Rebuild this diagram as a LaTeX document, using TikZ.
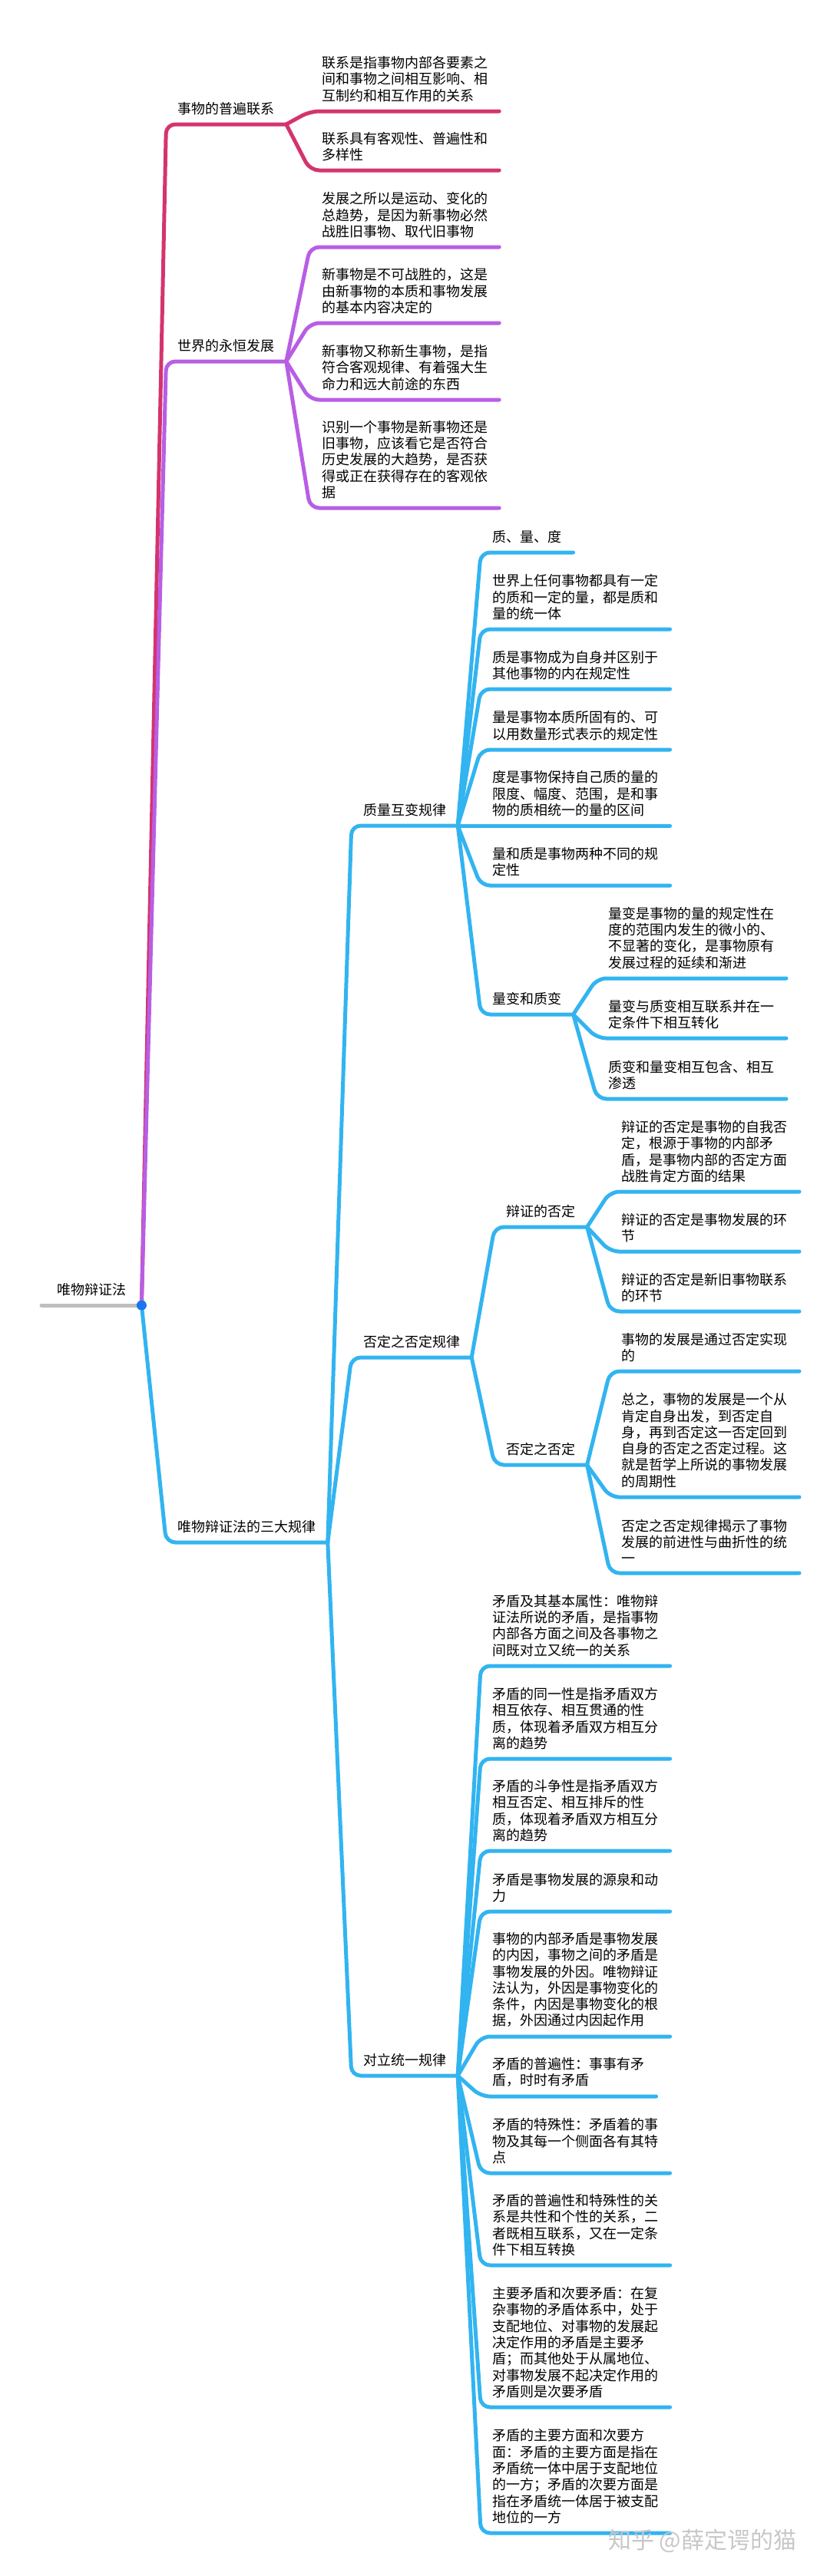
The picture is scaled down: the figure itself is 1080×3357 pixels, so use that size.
\documentclass[tikz,border=0pt]{standalone}
\usepackage{fontspec}
\setmainfont{Noto Sans CJK SC}
\usetikzlibrary{calc}

\definecolor{linkred}{RGB}{212,52,110}
\definecolor{linkpurple}{RGB}{184,94,228}
\definecolor{linkblue}{RGB}{50,180,240}
\definecolor{rootgray}{RGB}{190,190,190}
\definecolor{rootdot}{RGB}{26,118,238}

\begin{document}
\begin{tikzpicture}[x=1pt,y=-1pt,
  topic/.style={anchor=south west, align=left, inner xsep=15pt, inner ysep=12pt,
    font=\fontsize{18}{21.3}\selectfont},
  limb/.style={line width=5pt, line cap=round, line join=round, rounded corners=12pt},
  redlimb/.style={limb, draw=linkred},
  purplelimb/.style={limb, draw=linkpurple},
  bluelimb/.style={limb, draw=linkblue}]
\useasboundingbox (0,0) rectangle (1080,3357);

% root and first level
\node[topic, inner xsep=20pt] (root) at (54,1701) {唯物辩证法};
\node[topic] (link1) at ($(root.south east |- 0,162)+(32,0)$) {事物的普遍联系};
\node[topic] (grow1) at ($(root.south east |- 0,471)+(32,0)$) {世界的永恒发展};
\node[topic] (laws) at ($(root.south east |- 0,2010)+(32,0)$) {唯物辩证法的三大规律};

% 事物的普遍联系
\node[topic] (a1) at ($(link1.south east |- 0,145)+(31,0)$) {联系是指事物内部各要素之\\间和事物之间相互影响、相\\互制约和相互作用的关系};
\node[topic] (a2) at ($(link1.south east |- 0,222)+(31,0)$) {联系具有客观性、普遍性和\\多样性};

% 世界的永恒发展
\node[topic] (b1) at ($(grow1.south east |- 0,322)+(31,0)$) {发展之所以是运动、变化的\\总趋势，是因为新事物必然\\战胜旧事物、取代旧事物};
\node[topic] (b2) at ($(grow1.south east |- 0,421)+(31,0)$) {新事物是不可战胜的，这是\\由新事物的本质和事物发展\\的基本内容决定的};
\node[topic] (b3) at ($(grow1.south east |- 0,521)+(31,0)$) {新事物又称新生事物，是指\\符合客观规律、有着强大生\\命力和远大前途的东西};
\node[topic] (b4) at ($(grow1.south east |- 0,662)+(31,0)$) {识别一个事物是新事物还是\\旧事物，应该看它是否符合\\历史发展的大趋势，是否获\\得或正在获得存在的客观依\\据};

% 三大规律
\node[topic] (qlaw) at ($(laws.south east |- 0,1076)+(31,0)$) {质量互变规律};
\node[topic] (nlaw) at ($(laws.south east |- 0,1769)+(31,0)$) {否定之否定规律};
\node[topic] (ulaw) at ($(laws.south east |- 0,2705)+(31,0)$) {对立统一规律};

% 质量互变规律
\node[topic] (q1) at ($(qlaw.south east |- 0,720)+(30,0)$) {质、量、度};
\node[topic] (q2) at ($(qlaw.south east |- 0,820)+(30,0)$) {世界上任何事物都具有一定\\的质和一定的量，都是质和\\量的统一体};
\node[topic] (q3) at ($(qlaw.south east |- 0,898)+(30,0)$) {质是事物成为自身并区别于\\其他事物的内在规定性};
\node[topic] (q4) at ($(qlaw.south east |- 0,977)+(30,0)$) {量是事物本质所固有的、可\\以用数量形式表示的规定性};
\node[topic] (q5) at ($(qlaw.south east |- 0,1076)+(30,0)$) {度是事物保持自己质的量的\\限度、幅度、范围，是和事\\物的质相统一的量的区间};
\node[topic] (q6) at ($(qlaw.south east |- 0,1154)+(30,0)$) {量和质是事物两种不同的规\\定性};
\node[topic] (q7) at ($(qlaw.south east |- 0,1322)+(30,0)$) {量变和质变};
\node[topic] (q71) at ($(q7.south east |- 0,1275)+(31,0)$) {量变是事物的量的规定性在\\度的范围内发生的微小的、\\不显著的变化，是事物原有\\发展过程的延续和渐进};
\node[topic] (q72) at ($(q7.south east |- 0,1353)+(31,0)$) {量变与质变相互联系并在一\\定条件下相互转化};
\node[topic] (q73) at ($(q7.south east |- 0,1432)+(31,0)$) {质变和量变相互包含、相互\\渗透};

% 否定之否定规律
\node[topic] (n1) at ($(nlaw.south east |- 0,1599)+(30,0)$) {辩证的否定};
\node[topic] (n2) at ($(nlaw.south east |- 0,1909)+(30,0)$) {否定之否定};
\node[topic] (n11) at ($(n1.south east |- 0,1553)+(30,0)$) {辩证的否定是事物的自我否\\定，根源于事物的内部矛\\盾，是事物内部的否定方面\\战胜肯定方面的结果};
\node[topic] (n12) at ($(n1.south east |- 0,1631)+(30,0)$) {辩证的否定是事物发展的环\\节};
\node[topic] (n13) at ($(n1.south east |- 0,1709)+(30,0)$) {辩证的否定是新旧事物联系\\的环节};
\node[topic] (n21) at ($(n2.south east |- 0,1787)+(30,0)$) {事物的发展是通过否定实现\\的};
\node[topic] (n22) at ($(n2.south east |- 0,1951)+(30,0)$) {总之，事物的发展是一个从\\肯定自身出发，到否定自\\身，再到否定这一否定回到\\自身的否定之否定过程。这\\就是哲学上所说的事物发展\\的周期性};
\node[topic] (n23) at ($(n2.south east |- 0,2050)+(30,0)$) {否定之否定规律揭示了事物\\发展的前进性与曲折性的统\\一};

% 对立统一规律
\node[topic] (u1) at ($(ulaw.south east |- 0,2171)+(30,0)$) {矛盾及其基本属性：唯物辩\\证法所说的矛盾，是指事物\\内部各方面之间及各事物之\\间既对立又统一的关系};
\node[topic] (u2) at ($(ulaw.south east |- 0,2292)+(30,0)$) {矛盾的同一性是指矛盾双方\\相互依存、相互贯通的性\\质，体现着矛盾双方相互分\\离的趋势};
\node[topic] (u3) at ($(ulaw.south east |- 0,2412)+(30,0)$) {矛盾的斗争性是指矛盾双方\\相互否定、相互排斥的性\\质，体现着矛盾双方相互分\\离的趋势};
\node[topic] (u4) at ($(ulaw.south east |- 0,2491)+(30,0)$) {矛盾是事物发展的源泉和动\\力};
\node[topic] (u5) at ($(ulaw.south east |- 0,2654)+(30,0)$) {事物的内部矛盾是事物发展\\的内因，事物之间的矛盾是\\事物发展的外因。唯物辩证\\法认为，外因是事物变化的\\条件，内因是事物变化的根\\据，外因通过内因起作用};
\node[topic] (u6) at ($(ulaw.south east |- 0,2732)+(30,0)$) {矛盾的普遍性：事事有矛\\盾，时时有矛盾};
\node[topic] (u7) at ($(ulaw.south east |- 0,2832)+(30,0)$) {矛盾的特殊性：矛盾着的事\\物及其每一个侧面各有其特\\点};
\node[topic] (u8) at ($(ulaw.south east |- 0,2952)+(30,0)$) {矛盾的普遍性和特殊性的关\\系是共性和个性的关系，二\\者既相互联系，又在一定条\\件下相互转换};
\node[topic] (u9) at ($(ulaw.south east |- 0,3137)+(30,0)$) {主要矛盾和次要矛盾：在复\\杂事物的矛盾体系中，处于\\支配地位、对事物的发展起\\决定作用的矛盾是主要矛\\盾；而其他处于从属地位、\\对事物发展不起决定作用的\\矛盾则是次要矛盾};
\node[topic] (u10) at ($(ulaw.south east |- 0,3301)+(30,0)$) {矛盾的主要方面和次要方\\面：矛盾的主要方面是指在\\矛盾统一体中居于支配地位\\的一方；矛盾的次要方面是\\指在矛盾统一体居于被支配\\地位的一方};

% connectors
\draw[line width=5pt, line cap=round, rootgray] (root.south west) -- (root.south east);
\draw[redlimb] (root.south east) -- (link1.south west) -- (link1.south east);
\foreach \c in {a1,a2}
\draw[redlimb] (link1.south east) -- (\c.south west) -- (\c.south east);
\draw[purplelimb] (root.south east) -- (grow1.south west) -- (grow1.south east);
\foreach \c in {b1,b2,b3,b4}
\draw[purplelimb] (grow1.south east) -- (\c.south west) -- (\c.south east);
\draw[bluelimb] (root.south east) -- (laws.south west) -- (laws.south east);
\foreach \c in {qlaw,nlaw,ulaw}
\draw[bluelimb] (laws.south east) -- (\c.south west) -- (\c.south east);
\foreach \c in {q1,q2,q3,q4,q5,q6,q7}
\draw[bluelimb] (qlaw.south east) -- (\c.south west) -- (\c.south east);
\foreach \c in {q71,q72,q73}
\draw[bluelimb] (q7.south east) -- (\c.south west) -- (\c.south east);
\foreach \c in {n1,n2}
\draw[bluelimb] (nlaw.south east) -- (\c.south west) -- (\c.south east);
\foreach \c in {n11,n12,n13}
\draw[bluelimb] (n1.south east) -- (\c.south west) -- (\c.south east);
\foreach \c in {n21,n22,n23}
\draw[bluelimb] (n2.south east) -- (\c.south west) -- (\c.south east);
\foreach \c in {u1,u2,u3,u4,u5,u6,u7,u8,u9,u10}
\draw[bluelimb] (ulaw.south east) -- (\c.south west) -- (\c.south east);
\fill[rootdot] (root.south east) circle (6.5pt);

% watermark
\node[anchor=west, inner sep=0pt, text=black!22, font=\fontsize{30}{30}\selectfont] (mark) at (792,3311) {知乎 @薛定谔的猫};

\end{tikzpicture}
\end{document}
